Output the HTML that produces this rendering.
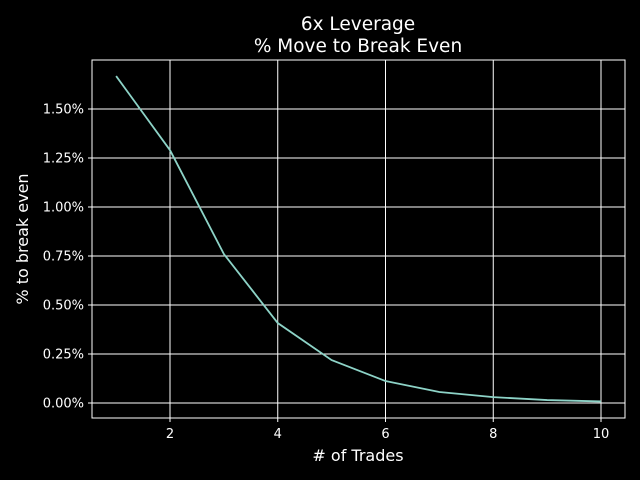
<!DOCTYPE html>
<html><head><meta charset="utf-8"><style>
html,body{margin:0;padding:0;background:#000;}
svg{display:block;font-family:"DejaVu Sans","Liberation Sans",sans-serif;}
</style></head><body>
<svg id="chart" width="640" height="480">
<rect width="640" height="480" fill="#000"/>
<text x="358" y="30" fill="#fff" font-size="18.5" text-anchor="middle">6x Leverage</text>
<text x="358" y="52" fill="#fff" font-size="18.5" text-anchor="middle">% Move to Break Even</text>
<g id="grid"></g><g id="ticks"></g>
<rect x="92" y="60" width="533" height="358" fill="none" stroke="#fff" stroke-width="1"/>
<path id="line" fill="none" stroke="#8dd3c7" stroke-width="1.8"/>
<text x="358" y="461" fill="#fff" font-size="16" text-anchor="middle"># of Trades</text>
<text transform="translate(28,239) rotate(-90)" fill="#fff" font-size="16" text-anchor="middle">% to break even</text>
</svg>
<script>
const trades=[1,2,3,4,5,6,7,8,9,10];
const pctValues=[1.668,1.29,0.76,0.408,0.219,0.112,0.056,0.03,0.015,0.008];
const xTicks=[2,4,6,8,10];
const yTicks=[0,0.25,0.5,0.75,1.0,1.25,1.5];
const yTickLabels=["0.00%","0.25%","0.50%","0.75%","1.00%","1.25%","1.50%"];
const NS="http://www.w3.org/2000/svg";
function xs(v){return 170+(v-2)*53.875;}
function ys(v){return 403-v*196;}
const grid=document.getElementById('grid'),ticks=document.getElementById('ticks');
function mk(tag,attrs,parent){const e=document.createElementNS(NS,tag);for(const k in attrs)e.setAttribute(k,attrs[k]);parent.appendChild(e);return e;}
xTicks.forEach(t=>{
  const g=mk('line',{x1:xs(t),x2:xs(t),y1:60,y2:418,stroke:'#fff','stroke-width':1},grid);
  
  
  const tk=mk('line',{x1:xs(t),x2:xs(t),y1:418,y2:422,stroke:'#fff'},ticks);
  
  
  const l=mk('text',{x:xs(t),y:438,fill:'#fff','font-size':13,'text-anchor':'middle'},ticks);
  l.textContent=t;
  
  
});
yTicks.forEach((t,i)=>{
  const g=mk('line',{x1:92,x2:625,y1:ys(t),y2:ys(t),stroke:'#fff','stroke-width':1},grid);
  
  
  const tk=mk('line',{x1:88,x2:92,y1:ys(t),y2:ys(t),stroke:'#fff'},ticks);
  
  
  const l=mk('text',{x:84,y:ys(t)+4.5,fill:'#fff','font-size':13,'text-anchor':'end'},ticks);
  l.textContent=yTickLabels[i];
  
  
});
document.getElementById('line').setAttribute('d',trades.map((x,i)=>(i?'L':'M')+xs(x)+','+ys(pctValues[i])).join(' '));
</script>
</body></html>
